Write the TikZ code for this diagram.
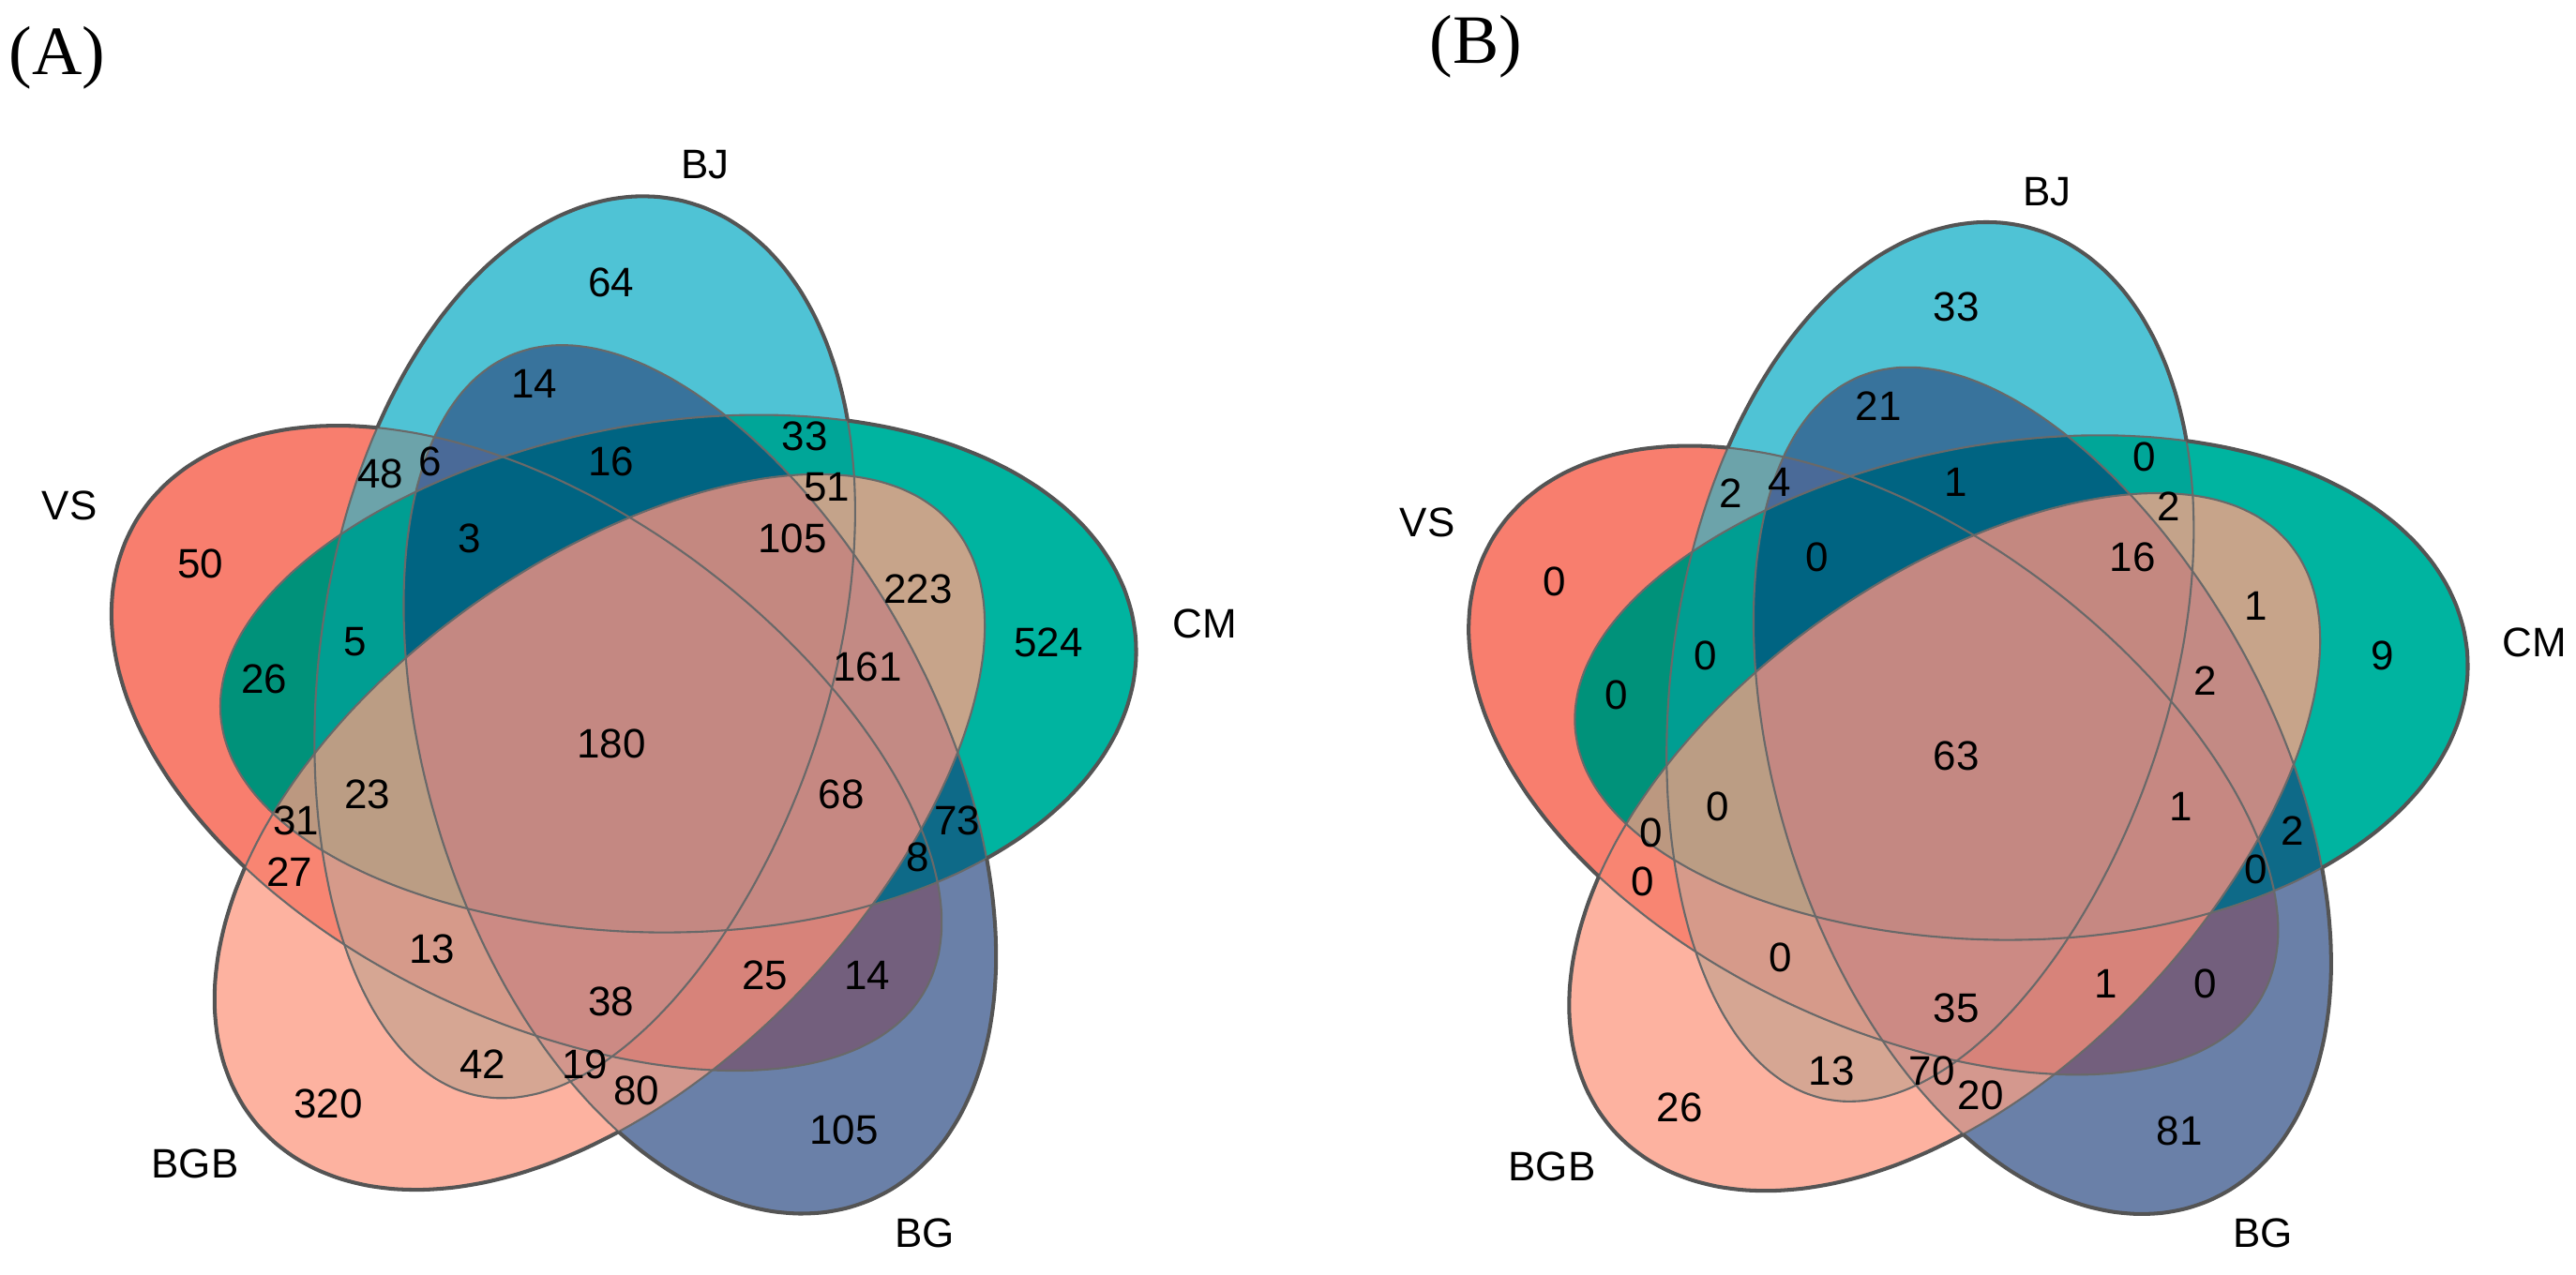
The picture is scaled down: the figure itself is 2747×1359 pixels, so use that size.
\documentclass[tikz,border=0pt]{standalone}
\usepackage{fontspec}
\setmainfont{Liberation Sans}
\newfontfamily\panelfont{Liberation Serif}

% region colours (V=VS, J=BJ, C=CM, G=BG, B=BGB)
\definecolor{cV}{RGB}{248,126,110}
\definecolor{cJ}{RGB}{79,195,213}
\definecolor{cC}{RGB}{0,180,160}
\definecolor{cG}{RGB}{106,128,168}
\definecolor{cB}{RGB}{253,178,160}
\definecolor{cVJ}{RGB}{108,163,170}
\definecolor{cVC}{RGB}{0,146,122}
\definecolor{cVG}{RGB}{115,95,125}
\definecolor{cVB}{RGB}{248,133,114}
\definecolor{cJC}{RGB}{0,166,152}
\definecolor{cJG}{RGB}{56,115,156}
\definecolor{cJB}{RGB}{214,166,147}
\definecolor{cCG}{RGB}{14,106,136}
\definecolor{cCB}{RGB}{199,164,138}
\definecolor{cGB}{RGB}{212,152,142}
\definecolor{cVJC}{RGB}{0,158,146}
\definecolor{cVJG}{RGB}{74,106,152}
\definecolor{cVJB}{RGB}{214,154,138}
\definecolor{cVCG}{RGB}{14,106,136}
\definecolor{cVCB}{RGB}{188,152,128}
\definecolor{cVGB}{RGB}{215,131,122}
\definecolor{cJCG}{RGB}{0,100,130}
\definecolor{cJCB}{RGB}{196,163,138}
\definecolor{cJGB}{RGB}{210,150,140}
\definecolor{cCGB}{RGB}{195,138,132}
\definecolor{cVJCG}{RGB}{0,100,130}
\definecolor{cVJCB}{RGB}{187,157,132}
\definecolor{cVJGB}{RGB}{204,138,132}
\definecolor{cVCGB}{RGB}{198,136,130}
\definecolor{cJCGB}{RGB}{196,136,128}
\definecolor{cAll}{RGB}{196,136,130}
\definecolor{edge}{RGB}{84,84,84}
\definecolor{inneredge}{RGB}{105,105,105}

% egg geometry (pixels of the reference)
\newcommand\eggR{91.5}
\newcommand\eggA{489.6}
\newcommand\eggB{273}
\newcommand\eggK{0.08}
\newcommand\pcx{646.4}
\newcommand\pcy{777.3}
\newcommand\psc{1}
% #1 offset angle of the centre, #2 #3 extra shift of that egg
\newcommand\eggp[3]{plot[smooth cycle, domain=0:355, samples=72, variable=\t]
 ({\pcx + \psc*(#2 + \eggR*cos(#1) + \eggA*cos(\t)*cos(#1-32.3) + \eggB*sin(\t)*(1+\eggK*cos(\t))*sin(#1-32.3))},
  {\pcy + \psc*(#3 - \eggR*sin(#1) - \eggA*cos(\t)*sin(#1-32.3) + \eggB*sin(\t)*(1+\eggK*cos(\t))*cos(#1-32.3))})}
\newcommand\sC{\eggp{37.3}{4}{0}}
\newcommand\sJ{\eggp{109.3}{0}{0}}
\newcommand\sV{\eggp{181.3}{10}{28}}
\newcommand\sB{\eggp{253.3}{25}{15}}
\newcommand\sG{\eggp{325.3}{15}{0}}
\newcommand\bigbox{(-200,-200) rectangle (3000,1600)}

\newcommand\twoR[3]{\begin{scope}\clip #1; \fill[#3] #2;\end{scope}}
\newcommand\threeR[4]{\begin{scope}\clip #1; \clip #2; \fill[#4] #3;\end{scope}}
\newcommand\fourR[5]{\begin{scope}\clip #1; \clip #2; \clip #3; \fill[#5] #4;\end{scope}}
% outer part of the outline of #5 (outside the other four)
\newcommand\outerR[5]{\begin{scope}[even odd rule]\clip \bigbox #1; \clip \bigbox #2;
 \clip \bigbox #3; \clip \bigbox #4; \draw[outline] #5;\end{scope}}

\newcommand\paintvenn{%
 \fill[cV] \sV; \fill[cJ] \sJ; \fill[cC] \sC; \fill[cG] \sG; \fill[cB] \sB;
 \twoR{\sV}{\sJ}{cVJ} \twoR{\sV}{\sC}{cVC} \twoR{\sV}{\sG}{cVG} \twoR{\sV}{\sB}{cVB}
 \twoR{\sJ}{\sC}{cJC} \twoR{\sJ}{\sG}{cJG} \twoR{\sJ}{\sB}{cJB}
 \twoR{\sC}{\sG}{cCG} \twoR{\sC}{\sB}{cCB} \twoR{\sG}{\sB}{cGB}
 \threeR{\sV}{\sJ}{\sC}{cVJC} \threeR{\sV}{\sJ}{\sG}{cVJG} \threeR{\sV}{\sJ}{\sB}{cVJB}
 \threeR{\sV}{\sC}{\sG}{cVCG} \threeR{\sV}{\sC}{\sB}{cVCB} \threeR{\sV}{\sG}{\sB}{cVGB}
 \threeR{\sJ}{\sC}{\sG}{cJCG} \threeR{\sJ}{\sC}{\sB}{cJCB} \threeR{\sJ}{\sG}{\sB}{cJGB}
 \threeR{\sC}{\sG}{\sB}{cCGB}
 \fourR{\sV}{\sJ}{\sC}{\sG}{cVJCG} \fourR{\sV}{\sJ}{\sC}{\sB}{cVJCB}
 \fourR{\sV}{\sJ}{\sG}{\sB}{cVJGB} \fourR{\sV}{\sC}{\sG}{\sB}{cVCGB}
 \fourR{\sJ}{\sC}{\sG}{\sB}{cJCGB}
 \begin{scope}\clip \sV; \clip \sJ; \clip \sC; \clip \sG; \fill[cAll] \sB;\end{scope}
 \draw[inline] \sV; \draw[inline] \sJ; \draw[inline] \sC; \draw[inline] \sG; \draw[inline] \sB;
 \outerR{\sJ}{\sC}{\sG}{\sB}{\sV}
 \outerR{\sV}{\sC}{\sG}{\sB}{\sJ}
 \outerR{\sV}{\sJ}{\sG}{\sB}{\sC}
 \outerR{\sV}{\sJ}{\sC}{\sB}{\sG}
 \outerR{\sV}{\sJ}{\sC}{\sG}{\sB}
}

\tikzset{
  num/.style={font=\fontsize{12.5}{14}\selectfont, inner sep=0pt},
  setlabel/.style={font=\fontsize{12.5}{14}\selectfont, inner sep=0pt},
  paneltag/.style={font=\panelfont\fontsize{21}{24}\selectfont, inner sep=0pt},
  outline/.style={draw=edge, line width=1.15pt},
  inline/.style={draw=inneredge, line width=0.6pt},
}

\begin{document}
\begin{tikzpicture}[x=0.01cm, y=-0.01cm]
\useasboundingbox (0,0) rectangle (2747,1359);
\fill[white] (0,0) rectangle (2747,1359);

% ---------------- panel A ----------------
\paintvenn
\node[paneltag] (tagA) at (61,62) {(A)};
\node[setlabel] (lBJa) at (752,176) {BJ};
\node[setlabel] (lVSa) at (74,539) {VS};
\node[setlabel] (lCMa) at (1285,665) {CM};
\node[setlabel] (lBGBa) at (208,1241) {BGB};
\node[setlabel] (lBGa) at (986,1315) {BG};
\node[num] (a64) at (652,301) {64};
\node[num] (a14t) at (570,409) {14};
\node[num] (a33) at (858,465) {33};
\node[num] (a48) at (406,505) {48};
\node[num] (a6) at (459,492) {6};
\node[num] (a16) at (652,492) {16};
\node[num] (a51) at (882,520) {51};
\node[num] (a3) at (501,574) {3};
\node[num] (a105t) at (845,574) {105};
\node[num] (a50) at (214,601) {50};
\node[num] (a223) at (979,628) {223};
\node[num] (a524) at (1118,685) {524};
\node[num] (a5) at (379,685) {5};
\node[num] (a26) at (282,724) {26};
\node[num] (a161) at (925,711) {161};
\node[num] (a180) at (652,793) {180};
\node[num] (a23) at (392,847) {23};
\node[num] (a68) at (897,847) {68};
\node[num] (a31) at (316,875) {31};
\node[num] (a73) at (1021,875) {73};
\node[num] (a27) at (309,930) {27};
\node[num] (a8) at (979,914) {8};
\node[num] (a13) at (461,1012) {13};
\node[num] (a25) at (816,1040) {25};
\node[num] (a14b) at (925,1040) {14};
\node[num] (a38) at (652,1068) {38};
\node[num] (a42) at (515,1135) {42};
\node[num] (a19) at (624,1135) {19};
\node[num] (a80) at (679,1163) {80};
\node[num] (a320) at (350,1177) {320};
\node[num] (a105b) at (900,1205) {105};

% ---------------- panel B ----------------
\renewcommand\pcx{2080.5}
\renewcommand\pcy{790.7}
\renewcommand\psc{0.975}
\paintvenn
\node[paneltag] (tagB) at (1574,50) {(B)};
\node[setlabel] (lBJb) at (2183,205) {BJ};
\node[setlabel] (lVSb) at (1522,557) {VS};
\node[setlabel] (lCMb) at (2703,685) {CM};
\node[setlabel] (lBGBb) at (1655,1244) {BGB};
\node[setlabel] (lBGb) at (2413,1315) {BG};
\node[num] (b33) at (2086,327) {33};
\node[num] (b21) at (2003,433) {21};
\node[num] (b0a) at (2287,487) {0};
\node[num] (b2a) at (1846,526) {2};
\node[num] (b4) at (1898,514) {4};
\node[num] (b1a) at (2086,514) {1};
\node[num] (b2b) at (2313,540) {2};
\node[num] (b0b) at (1938,594) {0};
\node[num] (b16) at (2274,594) {16};
\node[num] (b0c) at (1658,620) {0};
\node[num] (b1b) at (2406,646) {1};
\node[num] (b9) at (2541,699) {9};
\node[num] (b0d) at (1819,699) {0};
\node[num] (b2c) at (2352,726) {2};
\node[num] (b0e) at (1724,741) {0};
\node[num] (b63) at (2086,806) {63};
\node[num] (b0f) at (1832,860) {0};
\node[num] (b1c) at (2326,860) {1};
\node[num] (b0g) at (1761,888) {0};
\node[num] (b2d) at (2445,886) {2};
\node[num] (b0h) at (2406,927) {0};
\node[num] (b0i) at (1752,940) {0};
\node[num] (b0j) at (1899,1021) {0};
\node[num] (b1d) at (2246,1049) {1};
\node[num] (b0k) at (2352,1049) {0};
\node[num] (b35) at (2086,1075) {35};
\node[num] (b13) at (1953,1142) {13};
\node[num] (b70) at (2060,1142) {70};
\node[num] (b20) at (2112,1168) {20};
\node[num] (b26) at (1791,1181) {26};
\node[num] (b81) at (2324,1206) {81};
\end{tikzpicture}
\end{document}
